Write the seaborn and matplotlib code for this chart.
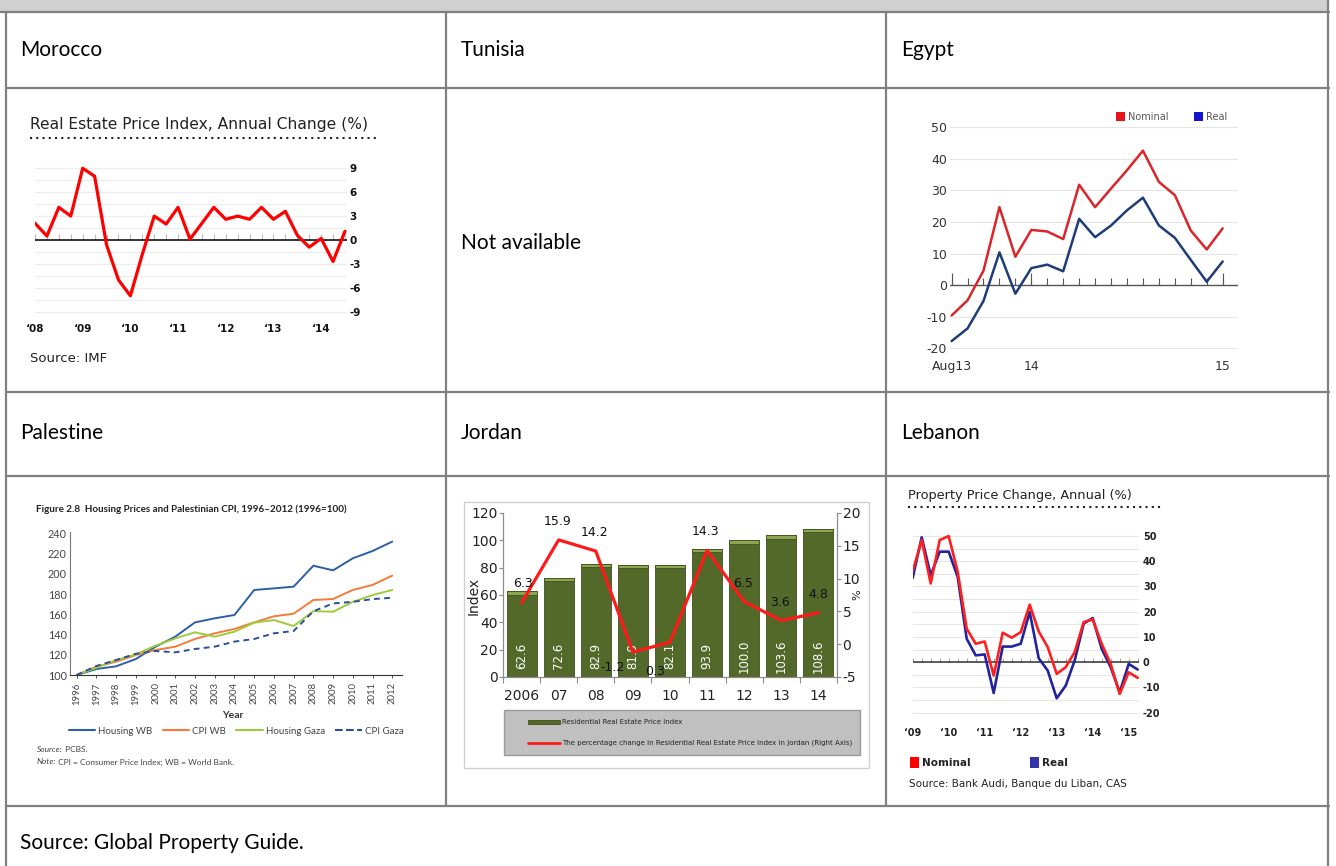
import numpy as np
import pandas as pd
import matplotlib
matplotlib.use("Agg")
import matplotlib.pyplot as plt
from matplotlib.patches import Rectangle
from matplotlib.lines import Line2D
import seaborn as sns

W, H = 1336, 866

# ---------------- data ----------------
# Morocco: real estate price index, annual change (%), quarterly 2008Q1 - 2014Q3
morocco_change = [2.1, 0.5, 4.1, 3.0, 9.0, 8.0, -0.6, -5.0, -7.0, -1.8, 3.0, 2.0, 4.1, 0.1,
                  2.1, 4.1, 2.6, 3.0, 2.6, 4.1, 2.6, 3.6, 0.6, -0.9, 0.2, -2.7, 1.1]
morocco_year_labels = ["\u201808", "\u201809", "\u201810", "\u201811", "\u201812", "\u201813", "\u201814"]

# Egypt: monthly, Aug 2013 - Jan 2015 (%)
egypt_nominal = [-9.6, -4.8, 4.6, 24.7, 9.0, 17.5, 17.0, 14.6, 31.8, 24.7, 30.6, 36.4,
                 42.6, 32.7, 28.5, 17.3, 11.3, 18.0]
egypt_real = [-17.7, -13.7, -5.0, 10.4, -2.7, 5.4, 6.5, 4.4, 21.0, 15.2, 18.9, 23.7,
              27.7, 18.9, 15.0, 8.0, 1.1, 7.5]
egypt_tick_labels = ["Aug13", "14", "15"]

# Palestine: housing prices and CPI, 1996 = 100
pal_years = list(range(1996, 2013))
pal_housing_wb = [100, 105.9, 108.6, 115.8, 128.0, 137.9, 152.0, 156.0, 159.3, 184.0, 185.6,
                  187.3, 208.0, 203.4, 215.3, 222.5, 231.8]
pal_cpi_wb = [100, 108.2, 113.2, 119.8, 124.7, 128.0, 135.6, 141.2, 145.5, 152.0, 158.0,
              160.6, 174.1, 175.1, 184.0, 189.0, 198.2]
pal_housing_gaza = [100, 107.2, 114.8, 120.4, 129.0, 136.2, 142.2, 137.9, 142.8, 151.7, 154.3,
                    148.4, 163.1, 162.5, 172.3, 179.0, 184.0]
pal_cpi_gaza = [100, 108.9, 114.8, 121.0, 123.7, 122.4, 125.7, 128.0, 133.0, 135.6, 141.2,
                143.5, 163.0, 170.7, 172.3, 175.0, 176.3]

# Jordan
jordan_years = ["2006", "07", "08", "09", "10", "11", "12", "13", "14"]
jordan_index = [62.6, 72.6, 82.9, 81.9, 82.1, 93.9, 100.0, 103.6, 108.6]
jordan_change = [6.3, 15.9, 14.2, -1.2, 0.3, 14.3, 6.5, 3.6, 4.8]

# Lebanon: quarterly 2009Q1 - 2015Q2 (%)
lebanon_nominal = [36.1, 48.4, 31.2, 48.4, 50.0, 35.8, 13.3, 7.3, 8.2, -5.3, 11.7, 9.7, 11.9,
                   22.8, 12.2, 6.0, -4.6, -2.0, 4.0, 15.9, 17.0, 7.3, -0.7, -12.6, -4.0, -6.2]
lebanon_real = [33.4, 49.5, 34.5, 43.8, 43.8, 33.8, 9.3, 2.7, 3.1, -12.2, 6.2, 6.2, 7.3,
                19.9, 1.6, -3.3, -14.3, -9.3, 0.7, 15.3, 17.5, 5.3, -2.0, -11.9, -0.7, -2.9]
lebanon_year_labels = ["\u201809", "\u201810", "\u201811", "\u201812", "\u201813", "\u201814", "\u201815"]

# ---------------- figure ----------------
sns.set_theme(style="white")
plt.rcParams["font.family"] = ["DejaVu Sans"]
plt.rcParams["axes.unicode_minus"] = False

fig = plt.figure(figsize=(W / 100, H / 100), dpi=100)
bg = fig.add_axes([0, 0, 1, 1])
bg.set_xlim(0, W)
bg.set_ylim(H, 0)
bg.axis("off")


def px_axes(x0, y0, x1, y1):
    # axes placed in pixel coordinates of the page (y measured from top)
    return fig.add_axes([x0 / W, 1 - y1 / H, (x1 - x0) / W, (y1 - y0) / H])


# table frame
line_c = "#808080"
bg.add_patch(Rectangle((0, 0), 1328, 12, facecolor="#d0d0d0", edgecolor="none"))
bg.plot([0, 1329], [12, 12], color=line_c, lw=1.6)
for y in [88, 392, 476, 806]:
    bg.plot([6, 1329], [y, y], color=line_c, lw=1.6)
bg.plot([6, 6], [12, H], color=line_c, lw=1.6)
bg.plot([1328, 1328], [0, H], color=line_c, lw=1.6)
for x in [446, 886]:
    bg.plot([x, x], [12, 806], color=line_c, lw=1.6)

cell_font = dict(family="Lato", fontsize=15, color="black", va="center")
for x, y, s in [(20, 50, "Morocco"), (461, 50, "Tunisia"), (901, 50, "Egypt"),
                (20, 433, "Palestine"), (461, 433, "Jordan"), (901, 433, "Lebanon"),
                (461, 243, "Not available"), (20, 843, "Source: Global Property Guide.")]:
    bg.text(x, y, s, **cell_font)

# ---------------- Morocco ----------------
bg.text(30, 125, "Real Estate Price Index, Annual Change (%)", fontsize=11.2, color="#222", va="center")
bg.plot([30, 380], [138, 138], color="#222", lw=1.5, ls=(0, (1, 2)))
bg.text(30, 358, "Source: IMF", fontsize=9.5, color="#222", va="center")

ax = px_axes(35, 161.9, 347, 318.1)
q = np.arange(len(morocco_change))
ax.vlines(q, 0, 0.7, color="#bbbbbb", lw=0.8, zorder=1)
ax.axhline(0, color="black", lw=1.1, zorder=2)
sns.lineplot(x=q, y=morocco_change, ax=ax, color="#ff0000", lw=2.3, zorder=3)
ax.set_xlim(0, 26.17)
ax.set_ylim(-9.8, 9.8)
ax.set_yticks([-9, -6, -3, 0, 3, 6, 9])
ax.set_yticks(np.arange(-9, 9.1, 1.5), minor=True)
ax.yaxis.tick_right()
ax.grid(axis="y", which="both", color="#ececec", lw=0.8)
ax.set_xticks(q[::4])
ax.set_xticklabels(morocco_year_labels)
ax.tick_params(axis="y", which="both", length=0, pad=1.5, labelsize=7.5, labelcolor="#111")
ax.tick_params(axis="x", length=0, pad=4.6, labelsize=7.5, labelcolor="#111")
for lab in ax.get_xticklabels() + ax.get_yticklabels():
    lab.set_fontweight("bold")
sns.despine(ax=ax, left=True, bottom=True)
ax.set_xlabel("")
ax.set_ylabel("")

# ---------------- Egypt ----------------
ax = px_axes(950, 124.1, 1238.3, 351.5)
m = np.arange(len(egypt_nominal))
ax.vlines(m, 0, 2.4, color="#555555", lw=0.8, zorder=1)
ax.vlines(m[[0, 5, -1]], 0, 4.0, color="#555555", lw=0.8, zorder=1)
ax.axhline(0, color="#555555", lw=1.0, zorder=2)
sns.lineplot(x=m, y=egypt_nominal, ax=ax, color="#d9262b", lw=1.8, zorder=3)
sns.lineplot(x=m, y=egypt_real, ax=ax, color="#1f3c7a", lw=1.8, zorder=3)
ax.set_xlim(-0.1, 17.98)
ax.set_ylim(-21, 51)
ax.set_yticks(range(-20, 51, 10))
ax.grid(axis="y", color="#e6e6e6", lw=0.8)
ax.set_xticks(m[[0, 5, -1]])
ax.set_xticklabels(egypt_tick_labels)
ax.tick_params(axis="y", length=0, pad=2, labelsize=9, labelcolor="#333")
ax.tick_params(axis="x", length=0, pad=5.8, labelsize=9, labelcolor="#333")
sns.despine(ax=ax, left=True, bottom=True)
ax.set_xlabel("")
ax.set_ylabel("")

bg.add_patch(Rectangle((1116, 112), 9, 9, facecolor="#e8141b", edgecolor="none"))
bg.text(1128, 116.5, "Nominal", fontsize=7, color="#555", va="center")
bg.add_patch(Rectangle((1194, 112), 9, 9, facecolor="#1414d0", edgecolor="none"))
bg.text(1206, 116.5, "Real", fontsize=7, color="#555", va="center")

# ---------------- Palestine ----------------
bg.text(36, 509, "Figure 2.8  Housing Prices and Palestinian CPI, 1996\u20132012 (1996=100)",
        family="Lato", fontsize=7.1, fontweight="bold", color="#222", va="center")

ax = px_axes(70, 532.3, 401.7, 675)
pal = pd.DataFrame({
    "year": pal_years * 4,
    "value": pal_housing_wb + pal_cpi_wb + pal_housing_gaza + pal_cpi_gaza,
    "series": (["Housing WB"] * 17 + ["CPI WB"] * 17 + ["Housing Gaza"] * 17 + ["CPI Gaza"] * 17),
})
pal_colors = {"Housing WB": "#2d5fa6", "CPI WB": "#f47b3a", "Housing Gaza": "#9ccc3c", "CPI Gaza": "#2b4f9e"}
pal_dashes = {"Housing WB": "", "CPI WB": "", "Housing Gaza": "", "CPI Gaza": (3, 2.2)}
sns.lineplot(data=pal, x="year", y="value", hue="series", style="series",
             palette=pal_colors, dashes=pal_dashes, lw=1.4, legend=False, ax=ax)
ax.set_xlim(1995.66, 2012.48)
ax.set_ylim(100, 241)
ax.set_yticks(range(100, 241, 20))
ax.set_xticks(pal_years)
ax.set_xticklabels([str(y) for y in pal_years], rotation=90)
ax.tick_params(axis="y", length=0, pad=2.4, labelsize=7.8, labelcolor="#444")
ax.tick_params(axis="x", length=1.8, width=0.6, color="#333", pad=3.5, labelsize=6.8,
               labelcolor="#444", bottom=True)
for lab in ax.get_xticklabels() + ax.get_yticklabels():
    lab.set_family("Lato")
sns.despine(ax=ax)
ax.spines["left"].set_color("#777777")
ax.spines["left"].set_linewidth(0.8)
ax.spines["bottom"].set_color("#333333")
ax.spines["bottom"].set_linewidth(0.8)
ax.set_xlabel("")
ax.set_ylabel("")
bg.text(233, 715, "Year", family="Lato", fontsize=7.5, fontweight="bold", color="#333",
        ha="center", va="center")
handles = [Line2D([], [], color=pal_colors[k], lw=1.5,
                  ls="--" if k == "CPI Gaza" else "-") for k in pal_colors]
ax.legend(handles, list(pal_colors), loc="center", bbox_to_anchor=(236 / W, 1 - 731 / H),
          bbox_transform=fig.transFigure, ncol=4, frameon=False, handlelength=2.7,
          handletextpad=0.3, columnspacing=1.1, prop={"family": "Lato", "size": 7},
          labelcolor="#444")
t1 = bg.text(37, 749, "Source:", family="Lato", fontsize=6, style="italic", color="#444", va="center")
bg.annotate(" PCBS.", xy=(1, 0.5), xycoords=t1, family="Lato", fontsize=6, color="#444", va="center")
t2 = bg.text(37, 762, "Note:", family="Lato", fontsize=6, style="italic", color="#444", va="center")
bg.annotate(" CPI = Consumer Price Index; WB = World Bank.", xy=(1, 0.5), xycoords=t2,
            family="Lato", fontsize=6, color="#444", va="center")

# ---------------- Jordan ----------------
bg.add_patch(Rectangle((464, 502), 405, 266, facecolor="white", edgecolor="#d0d0d0", lw=1))
ax = px_axes(503, 513, 837, 677)
sns.barplot(x=jordan_years, y=jordan_index, color="#52692a", saturation=1, width=0.81,
            edgecolor="#3e521c", linewidth=0.6, ax=ax)
for p in list(ax.patches):
    # light rim on top of each bar
    ax.add_patch(Rectangle((p.get_x(), p.get_height() - 2.4), p.get_width(), 2.4,
                           facecolor="#8ca652", edgecolor="#3e521c", lw=0.6))
for i, v in enumerate(jordan_index):
    ax.text(i, 15.5, f"{v:.1f}", rotation=90, ha="center", va="center", color="white", fontsize=8.5)
ax2 = ax.twinx()
sns.lineplot(x=np.arange(len(jordan_change)), y=jordan_change, color="#ff1a1a", lw=2.3, ax=ax2)
label_offsets = [(1, -19), (-1, -18), (-1, -19), (-20, 15), (-15, 29), (-2, -19), (-1, -18), (-1, -18), (0, -18)]
for i, (v, (dx, dy)) in enumerate(zip(jordan_change, label_offsets)):
    ax2.annotate(f"{v:.1f}", xy=(i, v), xytext=(dx * 0.72, -dy * 0.72), textcoords="offset points",
                 ha="center", va="center", fontsize=9, color="#111")
ax.set_xlim(-0.5, 8.5)
ax.set_ylim(0, 120)
ax.set_yticks(range(0, 121, 20))
ax2.set_ylim(-5, 20)
ax2.set_yticks(range(-5, 21, 5))
ax.set_xticks(np.arange(-0.5, 8.6, 1), minor=True)
for a in (ax, ax2):
    a.spines["top"].set_visible(False)
    for side in ["left", "right", "bottom"]:
        a.spines[side].set_color("#8c8c8c")
        a.spines[side].set_linewidth(0.8)
ax.tick_params(axis="y", left=True, length=3, width=0.8, color="#8c8c8c", pad=1,
               labelsize=10, labelcolor="#222")
ax2.tick_params(axis="y", right=True, length=3, width=0.8, color="#8c8c8c", pad=1,
                labelsize=10, labelcolor="#222")
ax.tick_params(axis="x", which="major", length=0, pad=8.3, labelsize=10, labelcolor="#222")
ax.tick_params(axis="x", which="minor", bottom=True, length=4, width=0.8, color="#8c8c8c")
ax.set_xlabel("")
ax.set_ylabel("")
ax2.set_ylabel("")
bg.text(474, 596, "Index", rotation=90, fontsize=10, color="#222", ha="center", va="center")
bg.text(857, 595, "%", rotation=90, fontsize=8, color="#222", ha="center", va="center")

bg.add_patch(Rectangle((504, 710), 356, 45, facecolor="#c0c0c0", edgecolor="#999999", lw=1))
bg.add_patch(Rectangle((528, 719.5), 32, 4.5, facecolor="#52692a", edgecolor="#3e521c", lw=0.6))
bg.text(562, 722, "Residential Real Estate Price Index", fontsize=5, color="#222", va="center")
bg.plot([528, 560], [743, 743], color="#ff1a1a", lw=2)
bg.text(562, 743, "The percentage change in Residential Real Estate Price Index in Jordan (Right Axis)",
        fontsize=5, color="#222", va="center")

# ---------------- Lebanon ----------------
bg.text(908, 495, "Property Price Change, Annual (%)", fontsize=9.3, color="#222", va="center")
bg.plot([908, 1162], [507, 507], color="#222", lw=1.5, ls=(0, (1, 2)))

ax = px_axes(912.7, 533.5, 1138.5, 715.2)
k = np.arange(len(lebanon_nominal))
ax.vlines(k, 0, 1.7, color="#aaaaaa", lw=0.8, zorder=1)
ax.axhline(0, color="#333333", lw=1.1, zorder=2)
sns.lineplot(x=k, y=lebanon_real, ax=ax, color="#23239b", lw=1.9, zorder=3)
sns.lineplot(x=k, y=lebanon_nominal, ax=ax, color="#ff1f1f", lw=1.9, zorder=3)
ax.set_xlim(0, 25.09)
ax.set_ylim(-21, 51)
ax.set_yticks(range(-20, 51, 10))
ax.set_yticks(range(-20, 51, 5), minor=True)
ax.yaxis.tick_right()
ax.grid(axis="y", which="both", color="#e6e6e6", lw=0.8)
ax.set_xticks(k[::4])
ax.set_xticklabels(lebanon_year_labels)
ax.tick_params(axis="y", which="both", length=0, pad=3.2, labelsize=7, labelcolor="#222")
ax.tick_params(axis="x", length=0, pad=9, labelsize=7, labelcolor="#222")
for lab in ax.get_xticklabels() + ax.get_yticklabels():
    lab.set_fontweight("bold")
sns.despine(ax=ax, left=True, bottom=True)
ax.set_xlabel("")
ax.set_ylabel("")

bg.add_patch(Rectangle((910, 757), 9, 11, facecolor="#ff0000", edgecolor="none"))
bg.text(922, 763, "Nominal", fontsize=7.5, fontweight="bold", color="#222", va="center")
bg.add_patch(Rectangle((1030, 757), 9, 11, facecolor="#3333aa", edgecolor="none"))
bg.text(1042, 763, "Real", fontsize=7.5, fontweight="bold", color="#222", va="center")
bg.text(909, 784, "Source: Bank Audi, Banque du Liban, CAS", fontsize=7.5, color="#222", va="center")

fig.savefig("out.png", dpi=100)
